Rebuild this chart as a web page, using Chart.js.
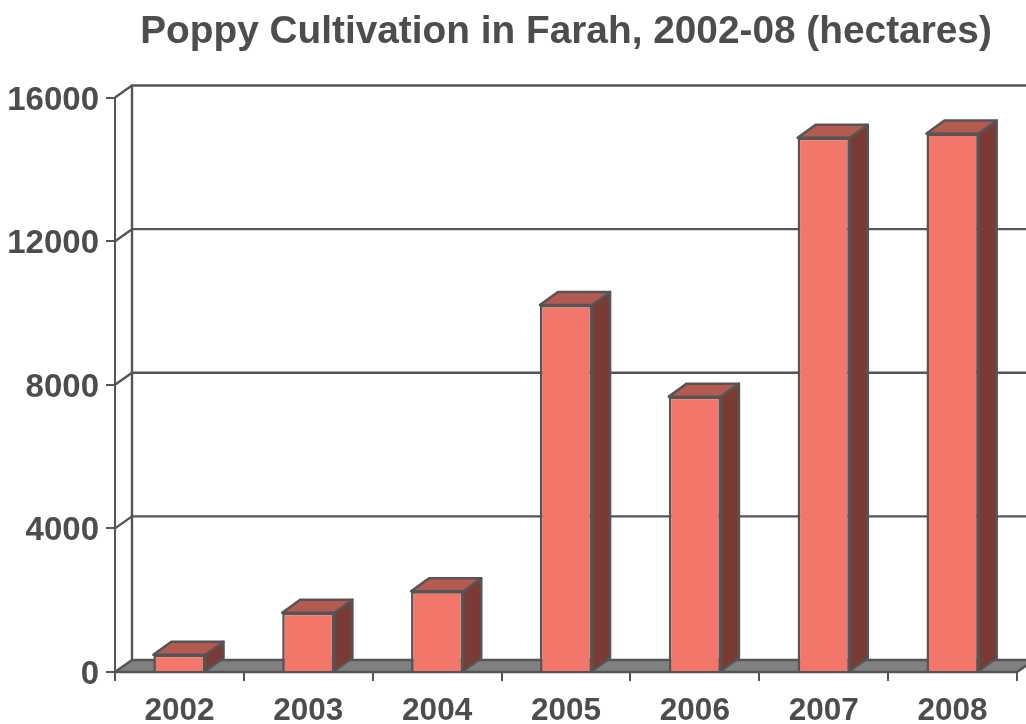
<!DOCTYPE html>
<html><head><meta charset="utf-8">
<style>html,body{margin:0;padding:0;background:#fff}#w{width:1026px;height:724px;position:relative;overflow:hidden}</style>
<script src="https://cdn.jsdelivr.net/npm/chart.js@4"></script></head>
<body><div id="w"><canvas id="c" width="1026" height="724"></canvas></div>
<script>
const years = ['2002','2003','2004','2005','2006','2007','2008'];
const hectares = [480,1650,2250,10220,7670,14880,15000];
const yTicks = [0,4000,8000,12000,16000];
const titleText = 'Poppy Cultivation in Farah, 2002-08 (hectares)';
const WDX = 17, WDY = 12, BDX = 18, BDY = 13, INK = '#555555', TXT = '#4d4d4d';
const font = 'Liberation Sans, Arial, sans-serif';
function poly(ctx, pts, fill, lw){
  ctx.beginPath(); pts.forEach((p,i)=> i?ctx.lineTo(p[0],p[1]):ctx.moveTo(p[0],p[1])); ctx.closePath();
  if(fill){ctx.fillStyle=fill;ctx.fill();}
  ctx.strokeStyle=INK;ctx.lineWidth=lw||2.5;ctx.lineJoin='round';ctx.stroke();
}
const box3d = {
  id:'box3d',
  beforeDatasetsDraw(chart){
    const {ctx,chartArea:a,scales:{y}} = chart;
    ctx.save();
    ctx.strokeStyle=INK;ctx.lineWidth=2.4;
    yTicks.forEach(v=>{
      if(v===0) return;
      const p=y.getPixelForValue(v);
      ctx.beginPath();ctx.moveTo(a.left,p);ctx.lineTo(a.left+WDX,p-WDY);ctx.lineTo(1030,p-WDY);ctx.stroke();
    });
    ctx.beginPath();ctx.moveTo(a.left+WDX,a.top-WDY);ctx.lineTo(a.left+WDX,a.bottom-WDY);ctx.stroke();
    poly(ctx,[[a.left,a.bottom],[a.left+WDX,a.bottom-WDY],[1060,a.bottom-WDY],[a.right+WDX,a.bottom-WDY],[a.right,a.bottom]],'#808080');
    chart.getDatasetMeta(0).data.forEach(b=>{
      const l=b.x-b.width/2,r=b.x+b.width/2,t=b.y,bo=b.base;
      poly(ctx,[[r,bo],[r+BDX,bo-BDY],[r+BDX,t-BDY],[r,t]],'#7a3b34');
      poly(ctx,[[l,t],[l+BDX,t-BDY],[r+BDX,t-BDY],[r,t]],'#b55a50');
    });
    ctx.restore();
  }
};
new Chart(document.getElementById('c'),{
  type:'bar',
  data:{labels:years,datasets:[{data:hectares,backgroundColor:'#f3766a',borderColor:INK,borderWidth:2.5,barPercentage:0.405,categoryPercentage:1}]},
  plugins:[box3d],
  options:{
    responsive:false,animation:false,
    layout:{padding:{left:0,right:9,top:0,bottom:0}},
    plugins:{legend:{display:false},tooltip:{enabled:false},
      title:{display:true,fullSize:false,text:titleText,color:TXT,font:{family:font,size:38.8,weight:'bold'},padding:{top:9,bottom:42}}},
    scales:{
      x:{offset:true,grid:{drawOnChartArea:false,color:INK,lineWidth:2,tickLength:9,offset:true},border:{color:INK,width:2},
        ticks:{color:TXT,font:{family:font,size:31.5,weight:'bold'},padding:11,autoSkip:false,maxRotation:0},
        afterFit(s){s.height=52;}},
      y:{min:0,max:16000,grid:{drawOnChartArea:false,color:INK,lineWidth:2,tickLength:9},border:{color:INK,width:2},
        afterBuildTicks(s){s.ticks=yTicks.map(v=>({value:v}));},
        ticks:{color:TXT,font:{family:font,size:33,weight:'bold',lineHeight:'6px'},padding:7,callback:v=>['',String(v)]},
        afterFit(s){s.width=115;}}
    }
  }
});
</script></body></html>
